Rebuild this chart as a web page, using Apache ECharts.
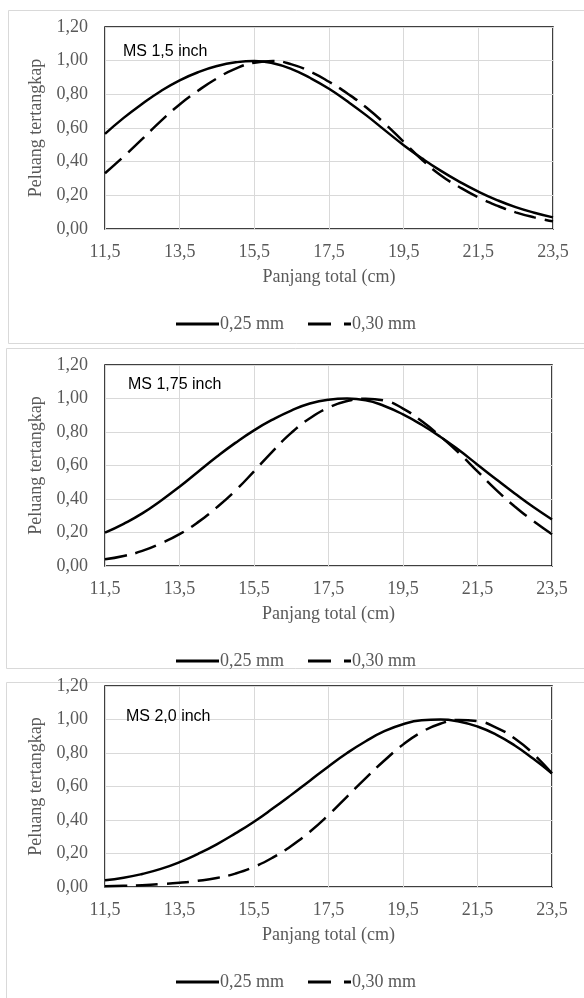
<!DOCTYPE html>
<html>
<head>
<meta charset="utf-8">
<script src="https://cdn.jsdelivr.net/npm/echarts@6/dist/echarts.min.js"></script>
<style>
html,body{margin:0;padding:0;background:#fff;}
#chart{width:584px;height:998px;}
</style>
</head>
<body>
<div id="chart"></div>
<script>
// Panjang total (cm)
var lengthCm = [11.5,12.0,12.5,13.0,13.5,14.0,14.5,15.0,15.5,16.0,16.5,17.0,17.5,18.0,18.5,19.0,19.5,20.0,20.5,21.0,21.5,22.0,22.5,23.0,23.5];
var seriesNames = ['0,25 mm', '0,30 mm'];
var panelTitles = ['MS 1,5 inch', 'MS 1,75 inch', 'MS 2,0 inch'];
var xAxisName = 'Panjang total (cm)';
var yAxisName = 'Peluang tertangkap';

// MS 1,5 inch
var ms15_025 = [0.565,0.66,0.744,0.82,0.883,0.932,0.968,0.99,0.998,0.985,0.95,0.897,0.833,0.757,0.675,0.586,0.498,0.418,0.345,0.28,0.222,0.172,0.13,0.097,0.069];
var ms15_030 = [0.331,0.43,0.535,0.642,0.74,0.823,0.895,0.953,0.988,0.998,0.978,0.935,0.875,0.804,0.722,0.625,0.518,0.41,0.318,0.248,0.188,0.139,0.099,0.069,0.046];
// MS 1,75 inch
var ms175_025 = [0.199,0.252,0.314,0.39,0.473,0.563,0.652,0.735,0.81,0.874,0.928,0.97,0.993,1.0,0.99,0.955,0.905,0.843,0.772,0.692,0.605,0.518,0.433,0.352,0.278];
var ms175_030 = [0.04,0.06,0.09,0.135,0.19,0.262,0.35,0.45,0.565,0.685,0.795,0.882,0.945,0.985,0.999,0.988,0.94,0.865,0.775,0.675,0.565,0.455,0.355,0.268,0.19];
// MS 2,0 inch
var ms20_025 = [0.04,0.055,0.078,0.108,0.148,0.198,0.255,0.32,0.39,0.468,0.55,0.635,0.72,0.80,0.87,0.93,0.972,0.995,1.0,0.988,0.958,0.91,0.845,0.765,0.678];
var ms20_030 = [0.005,0.007,0.011,0.017,0.025,0.037,0.054,0.08,0.12,0.175,0.245,0.33,0.43,0.54,0.65,0.755,0.85,0.925,0.975,0.997,0.99,0.952,0.887,0.795,0.678];

var panelData = [[ms15_025, ms15_030],[ms175_025, ms175_030],[ms20_025, ms20_030]];

var serif = 'Liberation Serif';
var gray = '#595959';
var grids = [
  {left:105, top:27, width:448, height:202},
  {left:105, top:365, width:447, height:201},
  {left:105, top:686, width:447, height:201}
];
var titlePos = [{left:123, top:44},{left:128, top:377},{left:126, top:709}];
var legendIcons = ['path://M0,0H43V3H0Z', 'path://M0,0H23V3H0Z M36,0H43V3H36Z'];

var option = {
  backgroundColor:'#fff',
  animation:false,
  title: panelTitles.map(function(t,i){
    return {text:t, left:titlePos[i].left, top:titlePos[i].top, padding:0,
      textStyle:{fontFamily:'Liberation Sans', fontSize:16, fontWeight:'normal', color:'#000'}};
  }),
  grid: grids.map(function(g){
    return {left:g.left, top:g.top, width:g.width, height:g.height, show:true,
      borderColor:'#000', borderWidth:1.5, backgroundColor:'transparent', containLabel:false};
  }),
  legend: grids.map(function(g,i){
    return {data:seriesNames.map(function(n,k){return {name:n, icon:legendIcons[k]};}),
      left:176, top:g.top+g.height+86, itemWidth:43, itemHeight:3, symbolKeepAspect:false,
      itemGap:24, padding:0,
      textStyle:{fontFamily:serif, fontSize:18, color:gray, padding:[0,0,0,-4]}};
  }),
  xAxis: grids.map(function(g,i){
    return {type:'category', gridIndex:i, data:lengthCm, boundaryGap:false,
      name:xAxisName, nameLocation:'middle', nameGap:39,
      nameTextStyle:{fontFamily:serif, fontSize:18, color:gray, lineHeight:18},
      axisLine:{show:false}, axisTick:{show:false},
      axisLabel:{interval:3, margin:14, fontFamily:serif, fontSize:18, color:gray, lineHeight:18,
        formatter:function(v){return Number(v).toFixed(1).replace('.', ',');}},
      splitLine:{show:true, interval:3, lineStyle:{color:'#d9d9d9', width:1}}};
  }),
  yAxis: grids.map(function(g,i){
    return {type:'value', gridIndex:i, min:0, max:1.2, interval:0.2,
      name:yAxisName, nameLocation:'middle', nameGap:55,
      nameTextStyle:{fontFamily:serif, fontSize:18, color:gray, lineHeight:18},
      axisLine:{show:false}, axisTick:{show:false},
      axisLabel:{margin:17, fontFamily:serif, fontSize:18, color:gray,
        formatter:function(v){return v.toFixed(2).replace('.', ',');}},
      splitLine:{show:true, lineStyle:{color:'#d9d9d9', width:1}}};
  }),
  series: [],
  graphic: [
    {type:'rect', silent:true, shape:{x:8.5, y:10.5, width:600, height:333}, style:{fill:null, stroke:'#d9d9d9', lineWidth:1}},
    {type:'rect', silent:true, shape:{x:6.5, y:348.5, width:600, height:320}, style:{fill:null, stroke:'#d9d9d9', lineWidth:1}},
    {type:'rect', silent:true, shape:{x:6.5, y:682.5, width:600, height:400}, style:{fill:null, stroke:'#d9d9d9', lineWidth:1}}
  ]
};

panelData.forEach(function(pair, i){
  pair.forEach(function(vals, k){
    option.series.push({
      type:'line', name:seriesNames[k], xAxisIndex:i, yAxisIndex:i,
      data:vals, smooth:0.5, symbol:'none', clip:true,
      lineStyle:{color:'#000', width:2.5, type: k===0 ? 'solid' : [22,9]},
      itemStyle:{color:'#000'}
    });
  });
});

var chart = echarts.init(document.getElementById('chart'), null, {renderer:'canvas'});
chart.setOption(option);
</script>
</body>
</html>
